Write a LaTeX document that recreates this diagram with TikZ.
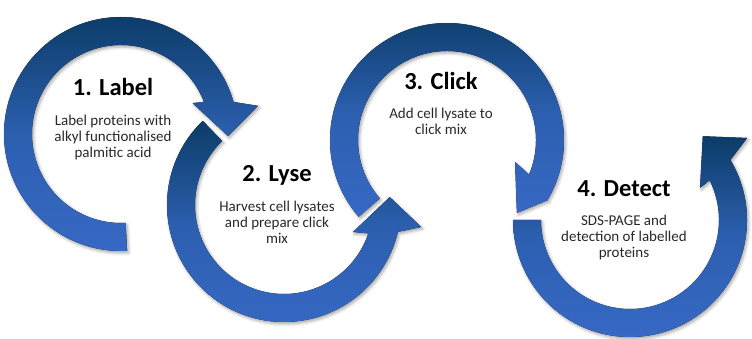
\documentclass[tikz,border=0pt]{standalone}
\usepackage{fontspec}
\setmainfont{Carlito}
\usetikzlibrary{shadows.blur}
\definecolor{navy}{RGB}{12,60,104}
\definecolor{midblue}{RGB}{44,95,175}
\definecolor{lightblue}{RGB}{55,105,197}
\definecolor{bodygray}{RGB}{40,40,40}

\begin{document}
\begin{tikzpicture}[x=1pt, y=1pt,
    cyclearrow/.style={top color=navy, bottom color=lightblue, middle color=midblue,
      blur shadow={shadow xshift=1.5pt, shadow yshift=-2pt, shadow blur radius=3pt, shadow opacity=35}},
    steptitle/.style={font=\bfseries\fontsize{24.5}{26}\selectfont, anchor=base, inner sep=0pt},
    steptext/.style={font=\fontsize{15}{15.7}\selectfont, text=bodygray, align=center, anchor=north, inner sep=0pt}]
    \useasboundingbox (0,0) rectangle (752,339);
    % 1. Label
    \fill[cyclearrow, shift={(121,205)}] (273:117) arc[start angle=273, end angle=15.9, radius=117]
        -- (11.6:140) -- (-1.1:107) -- (23.3:78) -- (21.2:89) arc[start angle=21.2, end angle=273, radius=89] -- cycle;
    % 2. Lyse
    \fill[cyclearrow, shift={(284,134)}] (134:117) arc[start angle=134, end angle=346.7, radius=117]
        -- (350.9:139) -- (364.3:106) -- (338.6:74) -- (341.4:89) arc[start angle=341.4, end angle=134, radius=89] -- cycle;
    % 3. Click
    \fill[cyclearrow, shift={(447,199)}] (221:117) arc[start angle=221, end angle=-30.6, radius=117]
        -- (-30.7:117.5) -- (-46.2:101) -- (-17.9:71.5) -- (-22.8:89) arc[start angle=-22.8, end angle=221, radius=89] -- cycle;
    % 4. Detect
    \fill[cyclearrow, shift={(630,119)}] (180:117) arc[start angle=180, end angle=390.9, radius=117]
        -- (395:143) -- (409:111) -- (384.6:77) -- (386.5:89) arc[start angle=386.5, end angle=180, radius=89] -- cycle;
    % step texts
    \node[steptitle] (lab) at (113,243) {1. Label};
    \node[steptext] (labtxt) at (113,224) {Label proteins with\\alkyl functionalised\\palmitic acid};
    \node[steptitle] (lys) at (277,157) {2. Lyse};
    \node[steptext] (lystxt) at (277,138) {Harvest cell lysates\\and prepare click\\mix};
    \node[steptitle] (clk) at (441,249) {3. Click};
    \node[steptext] (clktxt) at (441,231) {Add cell lysate to\\click mix};
    \node[steptitle] (det) at (624,142) {4. Detect};
    \node[steptext] (dettxt) at (624,124) {SDS-PAGE and\\detection of labelled\\proteins};
\end{tikzpicture}
\end{document}
